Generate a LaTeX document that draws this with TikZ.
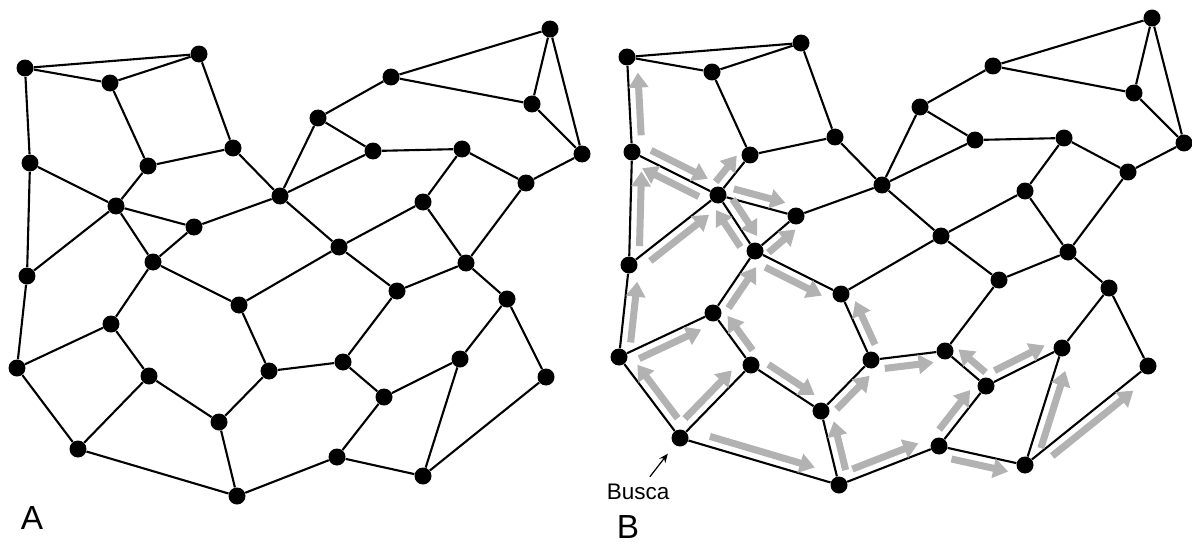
\documentclass[tikz,border=0pt]{standalone}
\usepackage{fontspec}
\setmainfont{Liberation Sans}
\usetikzlibrary{arrows.meta,calc}

% vertices of the graph: name/x/y (pixels, y downwards)
\newcommand\vtxlist{1/25/68, 2/199/54, 3/110/83, 4/233/148, 5/148/166,
  6/30/163, 7/116/206, 8/194/227, 9/280/196, 10/153/262, 11/27/276,
  12/550/29, 13/391/77, 14/532/104, 15/318/118, 16/373/151, 17/462/149,
  18/582/154, 19/526/183, 20/423/202, 21/339/247, 22/466/263, 23/239/305,
  24/111/324, 25/17/368, 26/149/376, 27/269/371, 28/219/422, 29/78/449,
  30/237/496, 31/397/291, 32/507/299, 33/343/362, 34/460/359, 35/546/377,
  36/384/397, 37/337/457, 38/423/476}
\newcommand\linklist{1/2, 1/3, 3/2, 2/4, 3/5, 5/4, 1/6, 6/7, 6/11, 7/5,
  7/8, 7/10, 7/11, 8/9, 8/10, 4/9, 9/15, 9/16, 9/21, 15/13, 15/16, 13/12,
  13/14, 12/14, 12/18, 14/18, 16/17, 17/19, 17/20, 19/18, 19/22, 20/21,
  20/22, 10/23, 23/21, 21/31, 22/31, 22/32, 31/33, 32/34, 32/35, 33/27,
  33/36, 36/34, 36/37, 37/38, 34/38, 38/35, 37/30, 11/25, 25/24, 24/10,
  24/26, 26/29, 25/29, 29/30, 26/28, 23/27, 27/28, 28/30}

\begin{document}
\begin{tikzpicture}[
  x=0.02cm, y=-0.02cm,
  vtx/.style={circle, fill=black, inner sep=0pt, minimum size=0.34cm},
  link/.style={line width=1.2pt},
  srch/.style={line width=4pt, black!30,
    -{Triangle[length=0.3cm, width=0.38cm]}},
  ptr/.style={-{Stealth[length=1.8mm, width=1.5mm]}, line width=0.7pt},
  lbl/.style={font=\fontsize{19}{23}\selectfont}
]
\useasboundingbox (0,0) rectangle (1192,544);

% graph A
\foreach \n/\x/\y in \vtxlist
  \node[vtx] (a\n) at (\x,\y) {};
\foreach \u/\v in \linklist
  \draw[link] (a\u) -- (a\v);
\node[lbl] (labA) at (32,518) {A};

% graph B
\begin{scope}[shift={(602,-11)}]
\foreach \n/\x/\y in \vtxlist
  \node[vtx] (b\n) at (\x,\y) {};
\foreach \u/\v in \linklist
  \draw[link] (b\u) -- (b\v);
\end{scope}
\node[lbl] (labB) at (628,527) {B};

% search steps, 90 = left of the edge, -90 = right
\foreach \u/\v/\a in {29/30/90, 29/25/-90, 29/26/90, 25/24/-90,
    25/11/-90, 11/6/-90, 6/1/-90, 11/7/-90, 6/7/90, 7/6/90, 7/5/90,
    7/8/90, 7/10/90, 10/7/90, 10/8/-90, 24/10/-90, 10/23/-90,
    26/24/-90, 26/28/90, 28/27/-90, 27/23/-90, 30/28/-90, 30/37/90,
    27/33/-90, 37/36/90, 36/33/-90, 37/38/-90, 36/34/90, 38/34/-90,
    38/35/-90}
  \draw[srch] ($(b\u)!0.17!(b\v)!0.2cm!\a:(b\v)$)
    -- ($(b\u)!0.83!(b\v)!0.2cm!\a:(b\v)$);

\node[font=\fontsize{12.8}{15}\selectfont, inner sep=0pt] (busca) at (638,492) {Busca};
\draw[ptr, shorten <=0.18cm, shorten >=0.22cm] (busca) -- (b29);
\end{tikzpicture}
\end{document}
